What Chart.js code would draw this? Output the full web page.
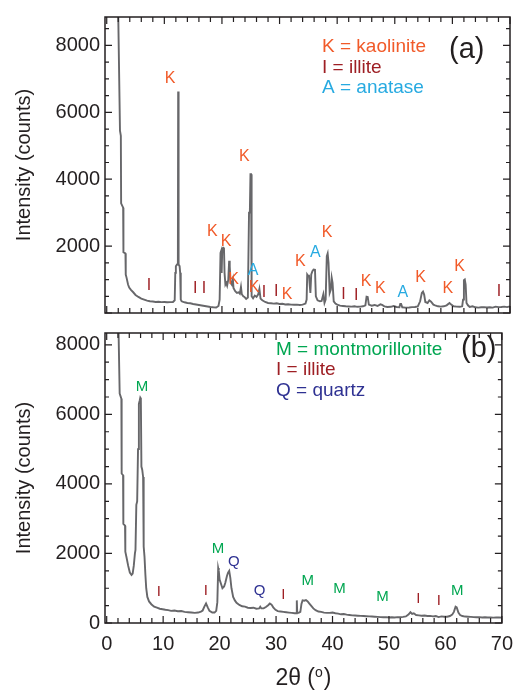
<!DOCTYPE html>
<html>
<head>
<meta charset="utf-8">
<script src="https://cdn.jsdelivr.net/npm/chart.js@4.4.0/dist/chart.umd.min.js"></script>
<style>
  body { margin: 0; background: #fff; }
  #wrap { position: relative; width: 522px; height: 692px; }
  #chartA { position: absolute; left: 0; top: 0; }
  #chartB { position: absolute; left: 0; top: 316px; }
</style>
</head>
<body>
<div id="wrap">
  <canvas id="chartA" width="522" height="330"></canvas>
  <canvas id="chartB" width="522" height="376"></canvas>
</div>
<script>
// panel (a): kaolinite-rich clay
const theta_a = [1.95, 2.0, 2.3, 2.45, 2.5, 2.85, 2.9, 3.25, 3.3, 3.45, 3.7, 3.9, 4.2, 4.6, 5.0, 5.5, 6.0, 6.5, 7.0, 7.5, 8.0, 8.5, 9.0, 9.5, 10.0, 10.5, 11.0, 11.5,
  11.8, 11.9, 12.0, 12.2, 12.35, 12.4, 12.45, 12.5, 12.65, 12.75, 12.85, 13.0, 13.5, 14.0, 14.5, 15.0, 15.5, 16.0, 16.5, 17.0, 17.5, 18.0, 18.5, 19.0, 19.4,
  19.6, 19.75, 19.85, 19.95, 20.05, 20.2, 20.35, 20.45, 20.6, 20.75, 20.9, 21.1, 21.25, 21.35, 21.5, 21.7, 21.9, 22.0, 22.3, 22.6, 22.9, 23.1, 23.3, 23.45,
  23.7, 23.9, 24.2, 24.5, 24.7, 24.85, 24.95, 25.05, 25.15, 25.4, 25.7, 26.0, 26.3, 26.5, 26.7, 27.0, 27.5, 28.0, 28.5, 29.0, 29.5, 30.0, 30.5, 31.0, 31.5,
  32.0, 32.5, 33.0, 33.5, 34.0, 34.5, 34.7, 34.8, 35.0, 35.1, 35.25, 35.35, 35.5, 35.7, 35.9, 36.15, 36.3, 36.6, 37.0, 37.3, 37.6, 37.8, 38.0, 38.2, 38.35,
  38.5, 38.7, 38.9, 39.05, 39.2, 39.4, 39.7, 40.0, 40.5, 41.0, 41.5, 42.0, 42.5, 43.0, 43.5, 44.0, 44.5, 44.9, 45.1, 45.3, 45.5, 46.0, 46.5, 47.0, 47.5,
  47.8, 48.2, 48.7, 49.3, 49.8, 50.3, 50.8, 50.95, 51.1, 51.3, 51.8, 52.5, 53.0, 53.5, 54.0, 54.4, 54.7, 54.9, 55.1, 55.3, 55.7, 56.0, 56.3, 56.7, 57.0,
  57.5, 58.0, 58.5, 59.0, 59.5, 59.8, 60.2, 60.7, 61.3, 61.7, 61.85, 62.0, 62.15, 62.3, 62.45, 62.7, 63.0, 63.5, 64.0, 64.5, 65.0, 65.5, 66.0, 66.5, 67.0,
  67.5, 68.0, 68.5, 69.0, 69.5, 70.0];
const counts_a = [11000, 8900, 5450, 5300, 3280, 3150, 1820, 1780, 1150, 1050, 850, 760, 690, 620, 540, 480, 430, 400, 370, 350, 345, 330, 335, 325, 330, 320, 325, 330,
  380, 1200, 1400, 1450, 1500, 6620, 6620, 1450, 1400, 1200, 400, 350, 320, 300, 290, 270, 255, 240, 225, 210, 195, 180, 170, 165, 210,
  400, 1800, 1850, 1200, 1900, 1950, 1960, 1200, 850, 900, 820, 1000, 1560, 1400, 900, 850, 1000, 750, 650, 600, 620, 580, 780, 560,
  500, 480, 420, 460, 3000, 3100, 4150, 4150, 500, 440, 520, 480, 560, 720, 430, 380, 330, 300, 290, 280, 290, 270, 275, 255, 260,
  250, 245, 250, 240, 250, 280, 400, 1150, 1100, 1140, 800, 600, 1150, 1250, 1300, 1290, 500, 380, 350, 360, 560, 300, 400, 1700, 1780,
  1500, 600, 700, 1050, 900, 350, 280, 250, 220, 210, 200, 195, 190, 200, 185, 190, 200, 230, 490, 480, 250, 220, 240, 210, 260,
  240, 200, 180, 185, 210, 180, 175, 270, 270, 170, 160, 165, 175, 180, 200, 350, 600, 640, 550, 330, 300, 380, 340, 250, 230,
  200, 190, 200, 230, 300, 250, 200, 190, 185, 200, 400, 980, 1000, 850, 300, 230, 180, 200, 170, 160, 170, 175, 165, 170, 160,
  190, 175, 180, 190, 175, 200];

// panel (b): montmorillonite-rich clay
const theta_b = [1.95, 2.1, 2.3, 2.6, 2.65, 2.9, 2.95, 3.25, 3.3, 3.5, 3.8, 4.1, 4.4, 4.6, 4.8, 5.0, 5.1, 5.25, 5.4, 5.55, 5.7, 5.85, 5.95, 6.05, 6.15, 6.3,
  6.45, 6.55, 6.7, 6.85, 7.0, 7.2, 7.5, 7.9, 8.4, 8.9, 9.4, 9.9, 10.4, 10.9, 11.4, 12.0, 12.6, 13.2, 13.8, 14.4, 15.0, 15.6, 16.2, 16.7, 17.0, 17.3, 17.6,
  17.9, 18.2, 18.7, 19.1, 19.4, 19.6, 19.75, 19.85, 20.0, 20.2, 20.5, 20.8, 21.0, 21.3, 21.5, 21.7, 21.9, 22.1, 22.4, 22.7, 23.0, 23.5, 24.0, 24.5, 25.0,
  25.5, 26.0, 26.5, 27.0, 27.2, 27.4, 27.8, 28.2, 28.6, 28.9, 29.2, 29.5, 29.9, 30.3, 30.8, 31.3, 31.8, 32.3, 32.8, 33.3, 33.6, 33.65, 33.7, 33.75, 34.0,
  34.3, 34.5, 34.7, 35.0, 35.3, 35.6, 35.9, 36.2, 36.6, 37.0, 37.5, 38.0, 38.5, 39.0, 39.5, 40.0, 40.5, 41.0, 41.5, 42.0, 42.5, 43.0, 43.5, 44.0, 44.5,
  45.0, 45.5, 46.0, 46.5, 47.0, 47.5, 48.0, 48.5, 49.0, 49.5, 50.0, 50.5, 51.0, 51.5, 52.0, 52.5, 53.0, 53.5, 53.8, 54.1, 54.4, 54.8, 55.3, 55.8, 56.3,
  56.8, 57.3, 57.8, 58.3, 58.8, 59.3, 59.8, 60.3, 60.8, 61.2, 61.5, 61.8, 62.0, 62.3, 62.6, 63.0, 63.5, 64.0, 64.5, 65.0, 65.5, 66.0, 66.5, 67.0, 67.5,
  68.0, 68.5, 69.0, 69.5, 70.0];
const counts_b = [12000, 8400, 6600, 6450, 4300, 4250, 2850, 2800, 2050, 1900, 1650, 1450, 1380, 1420, 1650, 2000, 2100, 3400, 3500, 5000, 6300, 6400, 6480, 6450, 4500, 4400,
  4200, 2200, 1900, 1400, 1000, 750, 620, 540, 470, 440, 410, 395, 380, 370, 350, 360, 340, 345, 320, 310, 300, 290, 300, 330, 360, 470, 560,
  450, 350, 300, 300, 350, 600, 1580, 1500, 1250, 1150, 1000, 1050, 1150, 1350, 1450, 1500, 1300, 1000, 750, 650, 580, 520, 480, 470, 440,
  430, 440, 410, 420, 470, 420, 420, 460, 510, 560, 530, 450, 380, 340, 330, 320, 310, 300, 290, 280, 280, 650, 650, 290, 290,
  320, 550, 650, 640, 660, 620, 560, 500, 420, 370, 330, 320, 300, 290, 290, 300, 280, 270, 250, 260, 240, 230, 220, 215, 210,
  205, 200, 195, 190, 185, 180, 175, 170, 165, 170, 160, 165, 160, 170, 165, 175, 190, 250, 310, 260, 280, 230, 220, 210, 215,
  200, 205, 190, 200, 170, 190, 180, 180, 200, 240, 320, 470, 450, 300, 230, 200, 185, 180, 175, 170, 165, 170, 160, 165, 160,
  160, 155, 160, 160, 155];

const xTicks = [0, 10, 20, 30, 40, 50, 60, 70];
const yTicks = [0, 2000, 4000, 6000, 8000];

// phase letters: [letter, 2theta, counts]
const marks_a = [
  ['K', 11.0, 7015], ['K', 23.9, 4670], ['K', 18.35, 2430], ['K', 20.7, 2125], ['K', 22.0, 995],
  ['A', 25.4, 1270], ['K', 25.6, 745], ['I', 7.35, 820], ['I', 15.35, 735], ['I', 16.9, 735],
  ['I', 27.3, 610], ['I', 29.4, 640], ['K', 31.3, 560], ['K', 33.6, 1530], ['A', 36.2, 1800],
  ['K', 38.25, 2415], ['I', 41.1, 560], ['I', 43.3, 515], ['K', 45.0, 940], ['K', 47.5, 735],
  ['A', 51.4, 610], ['K', 54.5, 1045], ['K', 59.2, 735], ['K', 61.25, 1400], ['I', 68.1, 640]
];
const marks_b = [
  ['M', 6.25, 6800], ['M', 19.7, 2125], ['Q', 22.5, 1760], ['I', 9.25, 890], ['I', 17.55, 930],
  ['Q', 27.1, 930], ['I', 31.3, 820], ['M', 35.6, 1205], ['M', 41.25, 985], ['M', 48.85, 745],
  ['I', 55.2, 700], ['I', 58.85, 635], ['M', 62.1, 930]
];

const legend_a = [['K = kaolinite', 'K'], ['I = illite', 'I'], ['A = anatase', 'A']];
const legend_b = [['M = montmorillonite', 'M'], ['I = illite', 'I'], ['Q = quartz', 'Q']];

const phaseColors = { K: '#f15a29', I: '#9e1f24', A: '#27aae1', M: '#00a651', Q: '#2e3192' };
const ink = '#231f20';
const FONT = '"Liberation Sans", Arial, sans-serif';
Chart.defaults.font.family = FONT;

const framePlugin = {
  id: 'frame',
  afterDatasetsDraw(chart, args, opts) {
    const { ctx, chartArea: a, scales: { x, y } } = chart;
    ctx.save();
    ctx.strokeStyle = ink;
    ctx.lineWidth = 1.5;
    ctx.strokeRect(a.left, a.top, a.right - a.left, a.bottom - a.top);
    // inward ticks on all four sides
    ctx.lineWidth = 1.2;
    ctx.beginPath();
    for (let v = 0; v <= 70; v += 2) {
      const px = x.getPixelForValue(v);
      const len = v % 10 === 0 ? 7 : 5;
      ctx.moveTo(px, a.bottom); ctx.lineTo(px, a.bottom - len);
      ctx.moveTo(px, a.top); ctx.lineTo(px, a.top + len);
    }
    for (let v = 0; v <= y.max; v += 500) {
      const py = y.getPixelForValue(v);
      const len = v % 2000 === 0 ? 7 : 4;
      ctx.moveTo(a.left, py); ctx.lineTo(a.left + len, py);
      ctx.moveTo(a.right, py); ctx.lineTo(a.right - len, py);
    }
    ctx.stroke();

    // phase letters over the peaks
    ctx.textAlign = 'center';
    ctx.textBaseline = 'middle';
    ctx.font = opts.markSize + 'px ' + FONT;
    opts.marks.forEach(m => {
      ctx.fillStyle = phaseColors[m[0]];
      ctx.fillText(m[0], x.getPixelForValue(m[1]), y.getPixelForValue(m[2]));
    });

    // key and panel tag
    ctx.textAlign = 'left';
    ctx.font = '19px ' + FONT;
    opts.legend.forEach((l, i) => {
      ctx.fillStyle = phaseColors[l[1]];
      ctx.fillText(l[0], opts.legendX, opts.legendY[i]);
    });
    ctx.fillStyle = ink;
    ctx.font = '29px ' + FONT;
    ctx.fillText(opts.tag, opts.tagX, opts.tagY);

    // x title with superscript o
    if (opts.xTitle) {
      const big = '23px ' + FONT, small = '14px ' + FONT;
      ctx.font = big;
      const w1 = ctx.measureText('2θ (').width, w3 = ctx.measureText(')').width;
      ctx.font = small;
      const w2 = ctx.measureText('o').width + 1;
      let sx = (a.left + a.right) / 2 - (w1 + w2 + w3) / 2;
      const base = opts.xTitleY;
      ctx.textBaseline = 'alphabetic';
      ctx.font = big;
      ctx.fillText('2θ (', sx, base);
      ctx.font = small;
      ctx.fillText('o', sx + w1, base - 8);
      ctx.font = big;
      ctx.fillText(')', sx + w1 + w2, base);
    }
    ctx.restore();
  }
};

function yScale(max, hideZero) {
  return {
    type: 'linear', min: 0, max: max,
    afterBuildTicks: s => { s.ticks = yTicks.map(v => ({ value: v })); },
    afterFit: s => { s.width = 105; },
    grid: { display: false, drawTicks: false },
    border: { display: false },
    ticks: {
      padding: 5, color: ink, font: { size: 20 },
      callback: v => (hideZero && v === 0) ? '' : String(v)
    },
    title: { display: true, text: 'Intensity (counts)', color: ink, font: { size: 20 }, padding: { top: 12 } }
  };
}

function lineData(theta, counts) {
  return {
    datasets: [{
      data: theta.map((t, i) => ({ x: t, y: counts[i] })),
      borderColor: '#67676a',
      borderWidth: 1.9,
      pointRadius: 0,
      tension: 0,
      fill: false
    }]
  };
}

new Chart(document.getElementById('chartA'), {
  type: 'line',
  data: lineData(theta_a, counts_a),
  options: {
    responsive: false, animation: false, devicePixelRatio: 1,
    layout: { padding: { top: 15, right: 12, bottom: 9, left: 0 } },
    plugins: {
      legend: { display: false }, tooltip: { enabled: false },
      frame: { marks: marks_a, markSize: 16, legend: legend_a, legendX: 322, legendY: [47, 68, 88], tag: '(a)', tagX: 449, tagY: 50 }
    },
    scales: {
      x: { type: 'linear', min: -0.3, max: 70, display: false },
      y: yScale(8850, true)
    }
  },
  plugins: [framePlugin]
});

new Chart(document.getElementById('chartB'), {
  type: 'line',
  data: lineData(theta_b, counts_b),
  options: {
    responsive: false, animation: false, devicePixelRatio: 1,
    layout: { padding: { top: 5, right: 12, bottom: 0, left: 0 } },
    plugins: {
      legend: { display: false }, tooltip: { enabled: false },
      frame: { marks: marks_b, markSize: 15, legend: legend_b, legendX: 276, legendY: [34, 54, 75], tag: '(b)', tagX: 461, tagY: 33, xTitle: true, xTitleY: 369 }
    },
    scales: {
      x: {
        type: 'linear', min: -0.3, max: 70,
        afterBuildTicks: s => { s.ticks = xTicks.map(v => ({ value: v })); },
        afterFit: s => { s.height = 69; },
        grid: { display: false, drawTicks: false },
        border: { display: false },
        ticks: { padding: 9, color: ink, font: { size: 20 }, maxRotation: 0, callback: v => String(v) }
      },
      y: yScale(8340, false)
    }
  },
  plugins: [framePlugin]
});
</script>
</body>
</html>
